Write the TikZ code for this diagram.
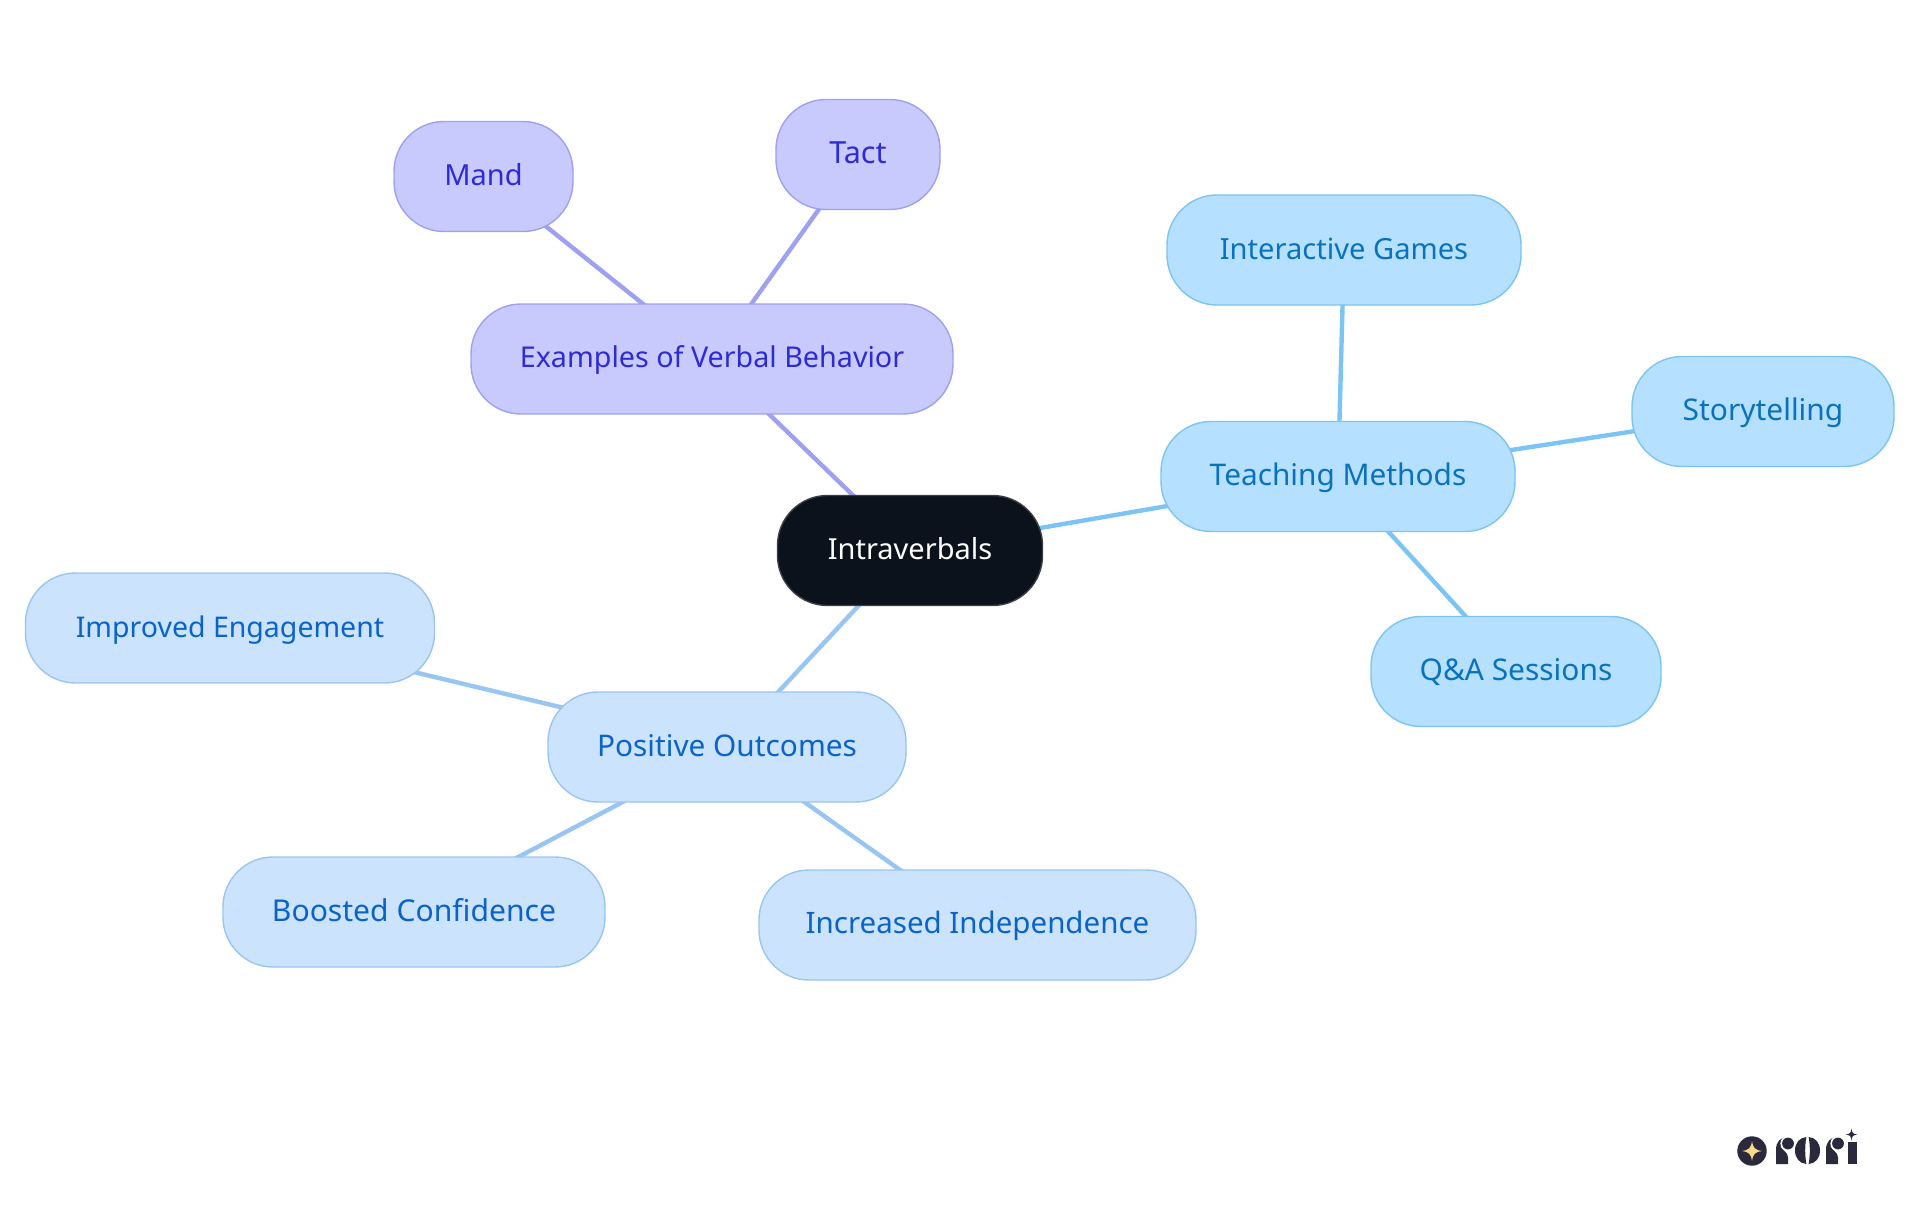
\documentclass[tikz,border=0pt]{standalone}
\usepackage{fontspec}
\setmainfont{Noto Sans}
\usetikzlibrary{backgrounds}
\definecolor{cfill}{HTML}{0B121B}\definecolor{cline}{HTML}{3A3F45}
\definecolor{pfill}{HTML}{C8CAFD}\definecolor{pline}{HTML}{9EA0F0}\definecolor{ptext}{HTML}{2F2BD2}
\definecolor{bfill}{HTML}{B5E0FF}\definecolor{bline}{HTML}{7CC4F3}\definecolor{btext}{HTML}{0A72BD}
\definecolor{lfill}{HTML}{CCE3FD}\definecolor{lline}{HTML}{99C5F2}\definecolor{ltext}{HTML}{0A63C9}
\definecolor{logo}{HTML}{2A2A3C}\definecolor{gold}{HTML}{FBD98A}
\tikzset{
 x=1pt,y=-1pt,
 tx/.style={font=\fontsize{#1}{34}\selectfont},
 low/.style={text depth=6pt},
 mm/.style={draw,line width=1.4pt,rounded corners=50pt,minimum height=110pt,inner sep=0pt,text height=25pt,text depth=8pt,anchor=center},
 cn/.style={mm,fill=cfill,draw=cline,text=white},
 pn/.style={mm,fill=pfill,draw=pline,text=ptext},
 bn/.style={mm,fill=bfill,draw=bline,text=btext},
 ln/.style={mm,fill=lfill,draw=lline,text=ltext},
 pe/.style={line width=4.4pt,draw=pline},
 be/.style={line width=4.4pt,draw=bline},
 le/.style={line width=4.4pt,draw=lline},
}
\begin{document}
\begin{tikzpicture}
\useasboundingbox (0,0) rectangle (1920,1215);
\node[cn,tx=29,minimum width=265pt] (c) at (910,550.5) {Intraverbals};
\node[bn,tx=29.8,minimum width=354pt] (t) at (1338,476.5) {Teaching Methods};
\node[bn,tx=29.9,minimum width=262pt] (s) at (1763,411.5) {Storytelling};
\node[bn,tx=29.1,low,minimum width=354pt] (g) at (1344,250) {Interactive Games};
\node[bn,tx=29.9,minimum width=290pt] (q) at (1516,671.5) {Q\&A Sessions};
\node[pn,tx=28.7,minimum width=482pt] (e) at (712,359) {Examples of Verbal Behavior};
\node[pn,tx=29,minimum width=179pt] (m) at (483.5,176.5) {Mand};
\node[pn,tx=30.5,minimum width=164pt] (a) at (858,154.5) {Tact};
\node[ln,tx=29.8,low,minimum width=358pt] (o) at (727,747) {Positive Outcomes};
\node[ln,tx=28.5,low,minimum width=409pt] (i) at (230,628) {Improved Engagement};
\node[ln,tx=30.1,low,minimum width=382pt] (b) at (414,912) {Boosted Confidence};
\node[ln,tx=29.5,minimum width=437pt] (n) at (977.5,925) {Increased Independence};
\begin{scope}[on background layer]
\draw[be] (c.center)--(t.center);
\draw[be] (t.center)--(s.center);
\draw[be] (t.center)--(g.center);
\draw[be] (t.center)--(q.center);
\draw[pe] (c.center)--(e.center);
\draw[pe] (e.center)--(m.center);
\draw[pe] (e.center)--(a.center);
\draw[le] (c.center)--(o.center);
\draw[le] (o.center)--(i.center);
\draw[le] (o.center)--(b.center);
\draw[le] (o.center)--(n.center);
\end{scope}
% logo
\fill[logo] (1752,1151) circle (14.7);
\fill[gold] (1752,1141) .. controls (1753,1148) and (1755,1150) .. (1762,1151) .. controls (1755,1152) and (1753,1154) .. (1752,1161) .. controls (1751,1154) and (1749,1152) .. (1742,1151) .. controls (1749,1150) and (1751,1148) .. (1752,1141) -- cycle;
% r
\fill[logo] (1776,1164) -- (1776,1150) .. controls (1776,1142) and (1780,1137) .. (1788,1137) -- (1788,1164) -- cycle;
\fill[white] (1788,1143.5) circle (7.6);
\fill[white] (1780.5,1146) .. controls (1782,1150) and (1788,1152) .. (1788,1157) -- (1795,1157) -- (1795,1146) -- cycle;
\fill[logo] (1788,1143.5) circle (5.9);
% o
\fill[logo] (1806.4,1137) .. controls (1799.5,1137.5) and (1795,1143) .. (1795,1150.5) .. controls (1795,1158) and (1799.5,1163.5) .. (1806.4,1164) .. controls (1804.8,1156) and (1804.8,1145) .. (1806.4,1137) -- cycle;
\fill[logo] (1808.6,1137) .. controls (1815.5,1137.5) and (1820,1143) .. (1820,1150.5) .. controls (1820,1158) and (1815.5,1163.5) .. (1808.6,1164) .. controls (1810.2,1156) and (1810.2,1145) .. (1808.6,1137) -- cycle;
% r
\fill[logo] (1826,1164) -- (1826,1150) .. controls (1826,1142) and (1830,1137) .. (1838,1137) -- (1838,1164) -- cycle;
\fill[white] (1838,1143.5) circle (7.6);
\fill[white] (1830.5,1146) .. controls (1832,1150) and (1838,1152) .. (1838,1157) -- (1845,1157) -- (1845,1146) -- cycle;
\fill[logo] (1838,1143.5) circle (5.9);
% i
\fill[logo] (1847.5,1142) rectangle (1857,1164);
\fill[logo] (1851.5,1128.5) .. controls (1852,1133) and (1853,1134) .. (1857.5,1134.5) .. controls (1853,1135) and (1852,1136) .. (1851.5,1140.5) .. controls (1851,1136) and (1850,1135) .. (1845.5,1134.5) .. controls (1850,1134) and (1851,1133) .. (1851.5,1128.5) -- cycle;
\end{tikzpicture}
\end{document}
